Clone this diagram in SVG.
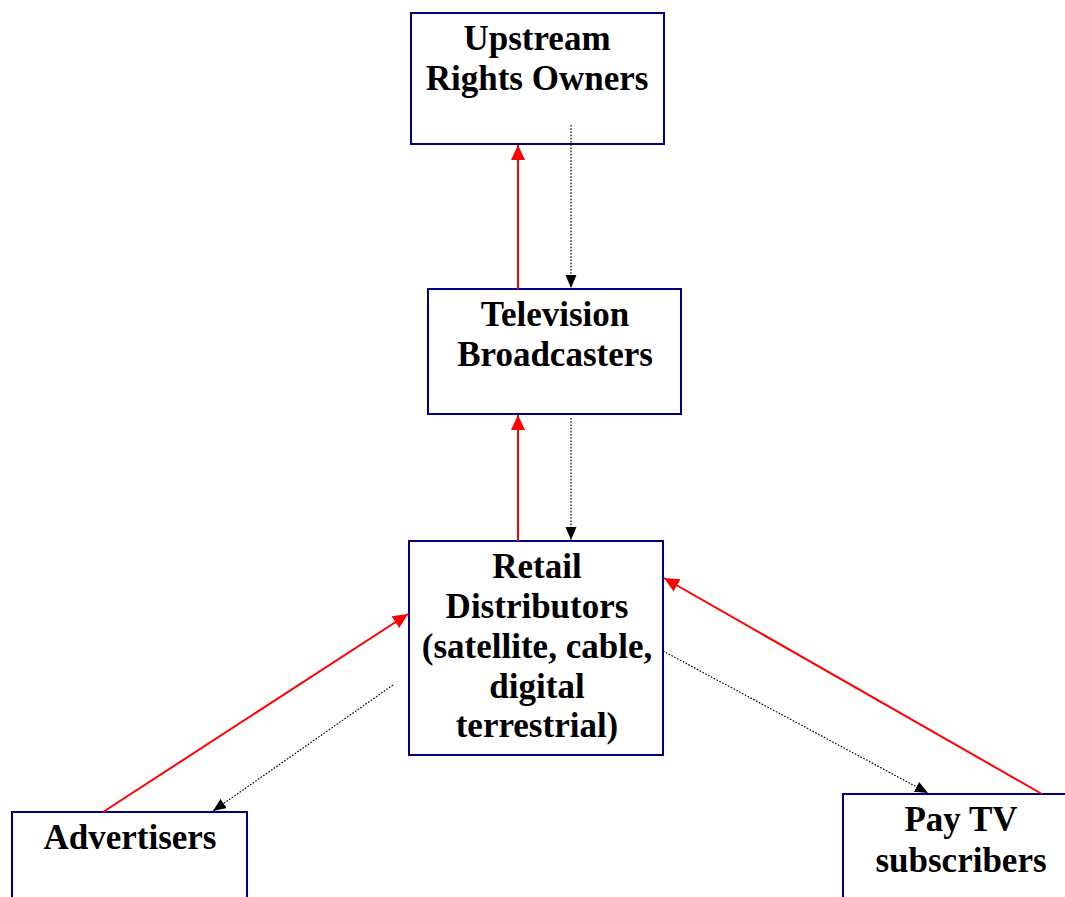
<svg xmlns="http://www.w3.org/2000/svg" width="1065" height="897" viewBox="0 0 1065 897">
<style>
.box{fill:#fff;stroke:#000080;stroke-width:2}
.lbl{font-family:"Liberation Serif","Times New Roman",serif;font-weight:bold;font-size:35px;fill:#000;text-anchor:middle}
.red{stroke:#ff0000;stroke-width:2;fill:none}
.dot{stroke:#000;stroke-width:1.2;stroke-dasharray:1.6 1.6;fill:none}
</style>
<defs>
<marker id="ar" markerUnits="userSpaceOnUse" markerWidth="16" markerHeight="16" viewBox="0 0 16 16" refX="15" refY="8" orient="auto">
<path d="M0,1 L15,8 L0,15 Z" fill="#ff0000"/>
</marker>
<marker id="ab" markerUnits="userSpaceOnUse" markerWidth="14" markerHeight="14" viewBox="0 0 14 14" refX="13" refY="7" orient="auto">
<path d="M0,1.5 L13,7 L0,12.5 Z" fill="#000"/>
</marker>
</defs>
<rect width="1065" height="897" fill="#fff"/>
<g id="upstream">
<rect class="box" x="411" y="13" width="253" height="131"/>
<text class="lbl" x="537" y="50">Upstream</text>
<text class="lbl" x="537" y="90">Rights Owners</text>
</g>
<g id="broadcasters">
<rect class="box" x="428" y="289" width="253" height="125"/>
<text class="lbl" x="555" y="326">Television</text>
<text class="lbl" x="555" y="366">Broadcasters</text>
</g>
<g id="retail">
<rect class="box" x="409" y="541" width="254" height="214"/>
<text class="lbl" x="537" y="578">Retail</text>
<text class="lbl" x="537" y="618">Distributors</text>
<text class="lbl" x="537" y="658">(satellite, cable,</text>
<text class="lbl" x="537" y="698">digital</text>
<text class="lbl" x="537" y="737">terrestrial)</text>
</g>
<g id="advertisers">
<rect class="box" x="12" y="812" width="235" height="100"/>
<text class="lbl" x="130" y="849">Advertisers</text>
</g>
<g id="paytv">
<rect class="box" x="843" y="794" width="235" height="120"/>
<text class="lbl" x="961" y="831">Pay TV</text>
<text class="lbl" x="961" y="872">subscribers</text>
</g>
<g id="connectors">
<line class="red" x1="518" y1="289" x2="518" y2="145" marker-end="url(#ar)"/>
<line class="dot" x1="571" y1="125" x2="571" y2="288" marker-end="url(#ab)"/>
<line class="red" x1="518" y1="541" x2="518" y2="415" marker-end="url(#ar)"/>
<line class="dot" x1="571" y1="418" x2="571" y2="540" marker-end="url(#ab)"/>
<line class="red" x1="103" y1="812" x2="408" y2="614" marker-end="url(#ar)"/>
<line class="dot" x1="393" y1="685" x2="213" y2="811" marker-end="url(#ab)"/>
<line class="red" x1="1042" y1="794" x2="664" y2="578" marker-end="url(#ar)"/>
<line class="dot" x1="663" y1="651" x2="928" y2="793" marker-end="url(#ab)"/>
</g>
</svg>
